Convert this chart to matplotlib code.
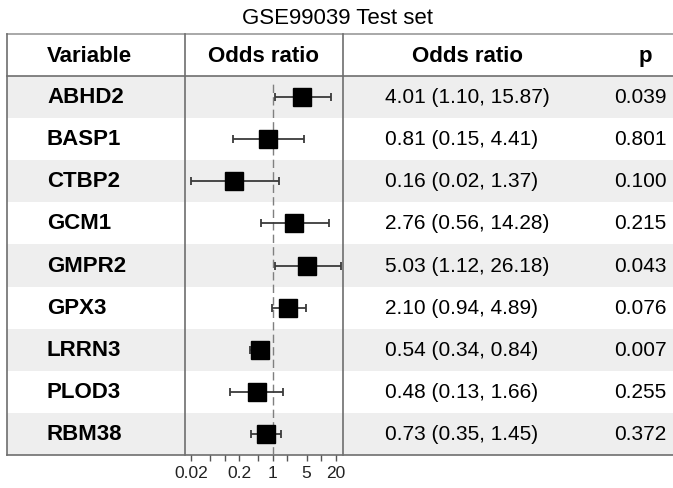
import numpy as np
import matplotlib
matplotlib.use("Agg")
import matplotlib.pyplot as plt

plt.rcParams["font.family"] = ["Liberation Sans", "DejaVu Sans"]

# data
genes = ["ABHD2", "BASP1", "CTBP2", "GCM1", "GMPR2", "GPX3", "LRRN3", "PLOD3", "RBM38"]
odds = [4.01, 0.81, 0.16, 2.76, 5.03, 2.10, 0.54, 0.48, 0.73]
lower = [1.10, 0.15, 0.02, 0.56, 1.12, 0.94, 0.34, 0.13, 0.35]
upper = [15.87, 4.41, 1.37, 14.28, 26.18, 4.89, 0.84, 1.66, 1.45]
pvals = [0.039, 0.801, 0.100, 0.215, 0.043, 0.076, 0.007, 0.255, 0.372]

tick_vals = [0.02, 0.05, 0.1, 0.2, 0.5, 1, 2, 5, 10, 20]
tick_labels = ["0.02", "", "", "0.2", "", "1", "", "5", "", "20"]

W, H = 673, 488
fig = plt.figure(figsize=(W / 100, H / 100), dpi=100)

# table layer, in pixel coordinates
tab = fig.add_axes([0, 0, 1, 1])
tab.set_xlim(0, W)
tab.set_ylim(H, 0)
tab.axis("off")

left, right = 7, W
top, head_bot, bottom = 34, 76, 455
n = len(genes)
row_h = (bottom - head_bot) / n
line_col = "#6e6e6e"

for i in range(n):
    if i % 2 == 0:
        y0 = head_bot + i * row_h
        tab.fill_between([left, right], y0, y0 + row_h, color="#eeeeee", lw=0, zorder=0)

tab.plot([left, right], [top, top], color="#9a9a9a", lw=1.2)
tab.plot([left, right], [head_bot, head_bot], color=line_col, lw=1.2)
tab.plot([left, right], [bottom, bottom], color=line_col, lw=1.2)
for x in [left, 185, 343]:
    tab.plot([x, x], [top, bottom], color=line_col, lw=1.2)

head_y = (top + head_bot) / 2 + 1.5
tab.text(47, head_y, "Variable", fontsize=16, fontweight="bold", ha="left", va="center")
tab.text(264, head_y, "Odds ratio", fontsize=16, fontweight="bold", ha="center", va="center")
tab.text(468, head_y, "Odds ratio", fontsize=16, fontweight="bold", ha="center", va="center")
tab.text(645, head_y, "p", fontsize=16, fontweight="bold", ha="center", va="center")

for i in range(n):
    yc = head_bot + (i + 0.5) * row_h + 0.5
    tab.text(47, yc, genes[i], fontsize=16, fontweight="bold", ha="left", va="center")
    txt = f"{odds[i]:.2f} ({lower[i]:.2f}, {upper[i]:.2f})"
    tab.text(385, yc, txt, fontsize=15, ha="left", va="center")
    tab.text(640, yc, f"{pvals[i]:.3f}", fontsize=15, ha="center", va="center")

tab.text(338, 18, "GSE99039 Test set", fontsize=16, ha="center", va="center")

# forest panel
fx0, fx1 = 185, 343
fp = fig.add_axes([fx0 / W, 1 - bottom / H, (fx1 - fx0) / W, (bottom - head_bot) / H])
fp.patch.set_alpha(0)
fp.set_xscale("log")
fp.set_xlim(0.0152, 28.4)
fp.set_ylim(n, 0)
for s in fp.spines.values():
    s.set_visible(False)
fp.set_yticks([])
fp.minorticks_off()
fp.set_xticks(tick_vals)
fp.set_xticklabels(tick_labels)
fp.tick_params(axis="x", direction="out", length=4, width=1, color="#555555",
               labelsize=12.5, labelcolor="#222222", pad=4)
fp.xaxis.set_tick_params(which="minor", length=0)

fp.axvline(1, ymin=0, ymax=(bottom - 82) / (bottom - head_bot), color="#7f7f7f",
           lw=1, ls=(0, (6, 3)), zorder=1)

ys = np.arange(n) + 0.5
err = [np.array(odds) - np.array(lower), np.array(upper) - np.array(odds)]
fp.errorbar(odds, ys, xerr=err, fmt="none", ecolor="#3a3a3a", elinewidth=1.3,
            capsize=3, capthick=1.3, zorder=2)
fp.plot(odds, ys, "s", color="black", markersize=13, zorder=3)

fig.savefig("out.png", dpi=100)
